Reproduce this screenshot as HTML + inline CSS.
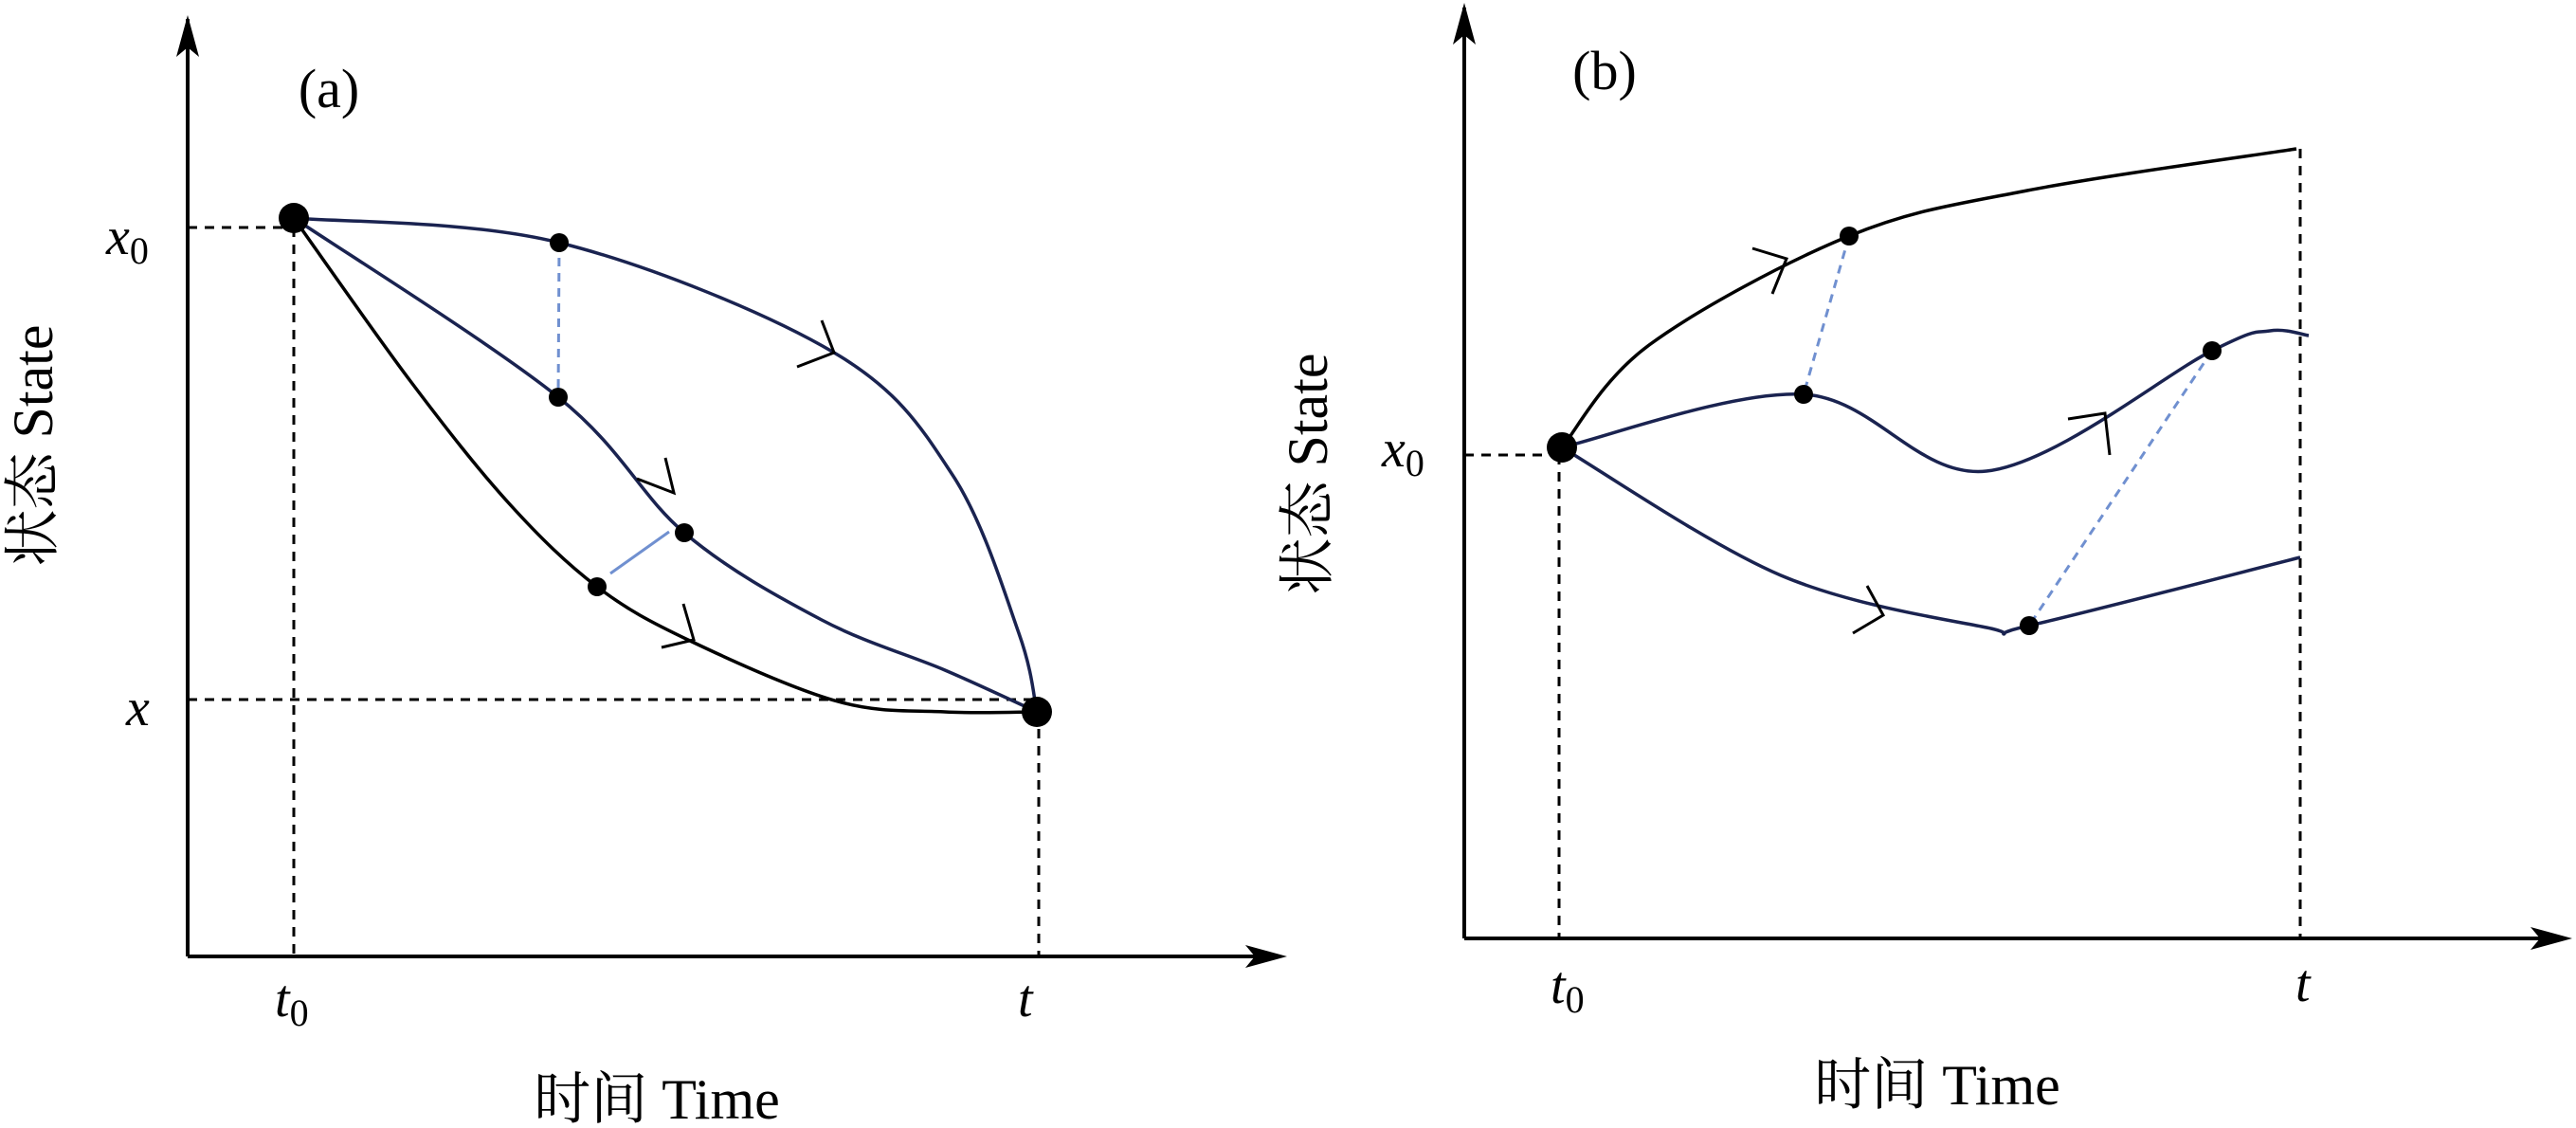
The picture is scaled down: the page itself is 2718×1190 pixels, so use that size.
<!DOCTYPE html>
<html><head><meta charset="utf-8"><style>
html,body{margin:0;padding:0;background:#fff;}
svg{display:block;}
text{font-family:"Liberation Serif","Noto Serif CJK SC",serif;fill:#000;}
</style></head><body>
<svg id="chart" width="2718" height="1190" viewBox="0 0 2718 1190" xmlns="http://www.w3.org/2000/svg">
<defs>
<marker id="ah" markerWidth="10" markerHeight="10" refX="9" refY="5" orient="auto" markerUnits="userSpaceOnUse" viewBox="0 0 10 10">
<path d="M0,0 L10,5 L0,10 L3,5 z" fill="#000"/></marker>
</defs>
<g id="static">
<!-- panel a axes -->
<line x1="198" y1="1009" x2="198" y2="20" stroke="#000" stroke-width="4"/>
<path d="M198,16 L186,60 L198,50 L210,60z" fill="#000"/>
<line x1="198" y1="1009" x2="1350" y2="1009" stroke="#000" stroke-width="4"/>
<path d="M1358,1009 L1314,997 L1324,1009 L1314,1021z" fill="#000"/>
<!-- panel b axes -->
<line x1="1545" y1="990" x2="1545" y2="8" stroke="#000" stroke-width="4"/>
<path d="M1545,3 L1533,47 L1545,37 L1557,47z" fill="#000"/>
<line x1="1545" y1="990" x2="2705" y2="990" stroke="#000" stroke-width="4"/>
<path d="M2714,990 L2670,978 L2680,990 L2670,1002z" fill="#000"/>
<!-- labels -->
<text x="347" y="113" font-size="58" text-anchor="middle">(a)</text>
<text x="1693" y="94" font-size="58" text-anchor="middle">(b)</text>
<text transform="translate(55,470) rotate(-90)" font-size="60" text-anchor="middle">状态 State</text>
<text transform="translate(1400,500) rotate(-90)" font-size="60" text-anchor="middle">状态 State</text>
<text x="693" y="1180" font-size="60" text-anchor="middle">时间 Time</text>
<text x="2044" y="1165" font-size="60" text-anchor="middle">时间 Time</text>
<text x="112" y="268" font-size="56" font-style="italic">x<tspan font-style="normal" font-size="40" dy="10">0</tspan></text>
<text x="133" y="765" font-size="56" font-style="italic">x</text>
<text x="290" y="1072" font-size="56" font-style="italic">t<tspan font-style="normal" font-size="40" dy="10">0</tspan></text>
<text x="1074" y="1072" font-size="56" font-style="italic">t</text>
<text x="1458" y="492" font-size="56" font-style="italic">x<tspan font-style="normal" font-size="40" dy="10">0</tspan></text>
<text x="1636" y="1058" font-size="56" font-style="italic">t<tspan font-style="normal" font-size="40" dy="10">0</tspan></text>
<text x="2422" y="1056" font-size="56" font-style="italic">t</text>
</g>
<g id="marks"></g>
</svg>
<script>
// Panel (a) curves: [x, y] points in pixel space
const curveAUpper = [[310,230],[590,256],[880,372],[1005,501],[1075,668],[1094,751]];
const curveAMiddle = [[310,230],[589,419],[722,562],[867,654],[997,707],[1094,751]];
const curveALower = [[310,230],[433,402],[537,531],[630,619],[728,676],[884,740],[997,751],[1094,751]];
const dotsA = [[590,256],[589,419],[722,562],[630,619]];
const bigDotsA = [[310,230],[1094,751]];
// Panel (b)
const curveBUpper = [[1648,472],[1740,364],[1951,249],[2139,201],[2423,157]];
const curveBMiddle = [[1648,472],[1903,416],[2096,497],[2334,370],[2395,349],[2436,354]];
const curveBLower = [[1648,472],[1879,607],[2096,662],[2141,660],[2427,588]];
const dotsB = [[1951,249],[1903,416],[2334,370],[2141,660]];
const bigDotsB = [[1648,472]];

const NS = 'http://www.w3.org/2000/svg';
const g = document.getElementById('marks');
function mk(tag, attrs){const e=document.createElementNS(NS,tag);for(const k in attrs)e.setAttribute(k,attrs[k]);g.appendChild(e);return e;}
function smooth(pts){
  let d='M'+pts[0][0]+','+pts[0][1];
  for(let i=0;i<pts.length-1;i++){
    const p0=pts[Math.max(i-1,0)],p1=pts[i],p2=pts[i+1],p3=pts[Math.min(i+2,pts.length-1)];
    const c1=[p1[0]+(p2[0]-p0[0])/6,p1[1]+(p2[1]-p0[1])/6];
    const c2=[p2[0]-(p3[0]-p1[0])/6,p2[1]-(p3[1]-p1[1])/6];
    d+=' C'+c1[0]+','+c1[1]+' '+c2[0]+','+c2[1]+' '+p2[0]+','+p2[1];
  }
  return d;
}
function line(x1,y1,x2,y2,stroke,w,dash,name){
  const e=mk('line',{x1,y1,x2,y2,stroke,'stroke-width':w});
  if(dash)e.setAttribute('stroke-dasharray',dash);
  
  
}
// guide dashed lines
line(198,240,310,240,'#000',3,'10,8','x0-guide-a');
line(310,240,310,1009,'#000',3,'10,8','t0-guide-a');
line(198,738,1094,738,'#000',3,'10,8','x-guide-a');
line(1096,751,1096,1009,'#000',3,'10,8','t-guide-a');
line(1545,480,1645,480,'#000',3,'10,8','x0-guide-b');
line(1645,480,1645,990,'#000',3,'10,8','t0-guide-b');
line(2427,157,2427,990,'#000',3,'10,8','t-guide-b');
// connectors
line(dotsA[0][0],dotsA[0][1],dotsA[1][0],dotsA[1][1],'#7090d0',3,'9,7','connector-a1');
line(644,605,706,561,'#7090d0',3,null,'connector-a2');
line(dotsB[0][0],dotsB[0][1],dotsB[1][0],dotsB[1][1],'#7090d0',3,'9,7','connector-b1');
line(dotsB[2][0],dotsB[2][1],dotsB[3][0],dotsB[3][1],'#7090d0',3,'9,7','connector-b2');
const curves=[[curveAUpper,'#1a2350','path-a-upper'],[curveAMiddle,'#1a2350','path-a-middle'],[curveALower,'#000','path-a-lower'],
 [curveBUpper,'#000','path-b-upper'],[curveBMiddle,'#1a2350','path-b-middle'],[curveBLower,'#1a2350','path-b-lower']];
curves.forEach(c=>{
  const p=mk('path',{d:smooth(c[0]),fill:'none',stroke:c[1],'stroke-width':3.5});
  
  
});
// chevrons
const chevrons=[[[841,387],[880,372],[867,338]],[[672,505],[711,520],[702,483]],[[698,683],[732,675],[721,637]],
 [[1849,262],[1885,273],[1870,310]],[[2182,442],[2221,436],[2226,480]],[[1970,618],[1987,649],[1955,668]]];
chevrons.forEach(c=>{
  const p=mk('polyline',{points:c.map(q=>q.join(',')).join(' '),fill:'none',stroke:'#000','stroke-width':3});
  
  
});
dotsA.concat(dotsB).forEach(d=>{
  const e=mk('circle',{cx:d[0],cy:d[1],r:10,fill:'#000'});
  
  
});
bigDotsA.concat(bigDotsB).forEach(d=>{
  const e=mk('circle',{cx:d[0],cy:d[1],r:16,fill:'#000'});
  
  
});
</script>
</body></html>
